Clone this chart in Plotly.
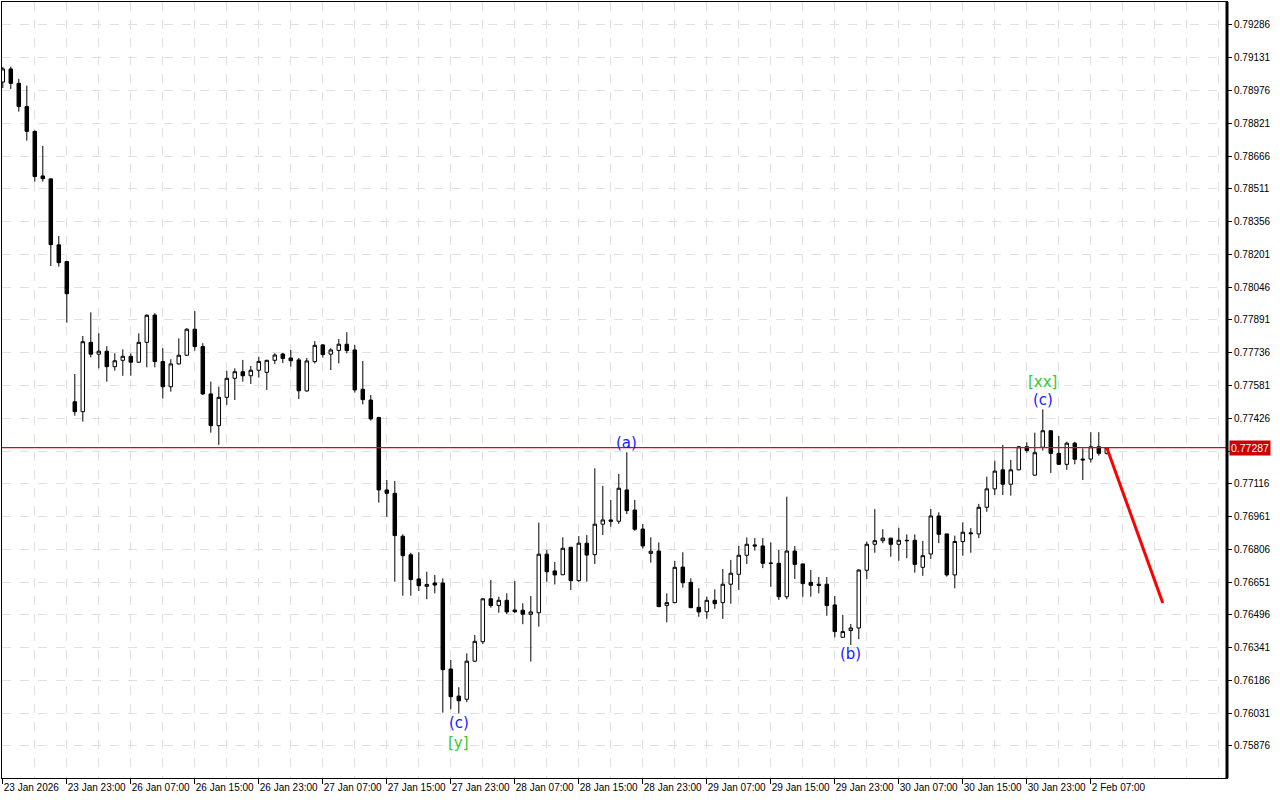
import plotly.graph_objects as go

# ---------------- data (hourly candles) ----------------
opens = [0.79016, 0.79078, 0.79010, 0.78900, 0.78783, 0.78572, 0.78558, 0.78246, 0.78167, 0.77504,
         0.77457, 0.77785, 0.77729, 0.77743, 0.77670, 0.77700, 0.77719, 0.77691, 0.77785, 0.77914,
         0.77694, 0.77575, 0.77683, 0.77724, 0.77847, 0.77765, 0.77541, 0.77391, 0.77525, 0.77615,
         0.77646, 0.77627, 0.77653, 0.77643, 0.77700, 0.77730, 0.77711, 0.77702, 0.77555, 0.77694,
         0.77773, 0.77729, 0.77747, 0.77776, 0.77749, 0.77563, 0.77512, 0.77429, 0.77087, 0.77071,
         0.76868, 0.76780, 0.76666, 0.76631, 0.76647, 0.76647, 0.76240, 0.76112, 0.76097, 0.76277,
         0.76369, 0.76572, 0.76541, 0.76565, 0.76519, 0.76518, 0.76499, 0.76506, 0.76783, 0.76704,
         0.76686, 0.76816, 0.76658, 0.76835, 0.76781, 0.76925, 0.76945, 0.76939, 0.77087, 0.76992,
         0.76902, 0.76787, 0.76798, 0.76541, 0.76554, 0.76722, 0.76650, 0.76532, 0.76511, 0.76565,
         0.76554, 0.76641, 0.76688, 0.76778, 0.76827, 0.76822, 0.76741, 0.76740, 0.76582, 0.76798,
         0.76737, 0.76650, 0.76641, 0.76641, 0.76543, 0.76390, 0.76422, 0.76434, 0.76707, 0.76830,
         0.76847, 0.76859, 0.76830, 0.76849, 0.76849, 0.76721, 0.76784, 0.76964, 0.76879, 0.76685,
         0.76843, 0.76884, 0.76879, 0.77005, 0.77092, 0.77182, 0.77114, 0.77182, 0.77291, 0.77157,
         0.77289, 0.77367, 0.77260, 0.77208, 0.77308, 0.77233, 0.77233, 0.77291, 0.77260]
highs = [0.79087, 0.79089, 0.79031, 0.78999, 0.78787, 0.78714, 0.78560, 0.78288, 0.78170, 0.77635,
         0.77815, 0.77927, 0.77828, 0.77767, 0.77733, 0.77752, 0.77733, 0.77828, 0.77918, 0.77923,
         0.77757, 0.77705, 0.77804, 0.77852, 0.77933, 0.77781, 0.77599, 0.77575, 0.77650, 0.77662,
         0.77702, 0.77673, 0.77717, 0.77702, 0.77733, 0.77736, 0.77749, 0.77711, 0.77711, 0.77791,
         0.77777, 0.77757, 0.77801, 0.77833, 0.77773, 0.77697, 0.77536, 0.77433, 0.77134, 0.77129,
         0.76877, 0.76790, 0.76792, 0.76700, 0.76685, 0.76669, 0.76283, 0.76154, 0.76314, 0.76401,
         0.76575, 0.76661, 0.76582, 0.76598, 0.76656, 0.76551, 0.76585, 0.76932, 0.76803, 0.76746,
         0.76863, 0.76816, 0.76869, 0.76874, 0.77189, 0.77106, 0.77040, 0.77163, 0.77265, 0.77040,
         0.76926, 0.76863, 0.76839, 0.76598, 0.76751, 0.76792, 0.76669, 0.76622, 0.76582, 0.76617,
         0.76713, 0.76756, 0.76822, 0.76862, 0.76859, 0.76859, 0.76839, 0.76803, 0.77055, 0.76822,
         0.76737, 0.76708, 0.76675, 0.76675, 0.76585, 0.76496, 0.76453, 0.76712, 0.76843, 0.76996,
         0.76901, 0.76859, 0.76908, 0.76877, 0.76877, 0.76846, 0.76997, 0.76981, 0.76879, 0.76871,
         0.76934, 0.76906, 0.77021, 0.77150, 0.77225, 0.77300, 0.77229, 0.77295, 0.77312, 0.77358,
         0.77468, 0.77367, 0.77342, 0.77315, 0.77315, 0.77284, 0.77360, 0.77360, 0.77290]
lows = [0.78988, 0.78983, 0.78876, 0.78739, 0.78545, 0.78545, 0.78146, 0.78143, 0.77878, 0.77438,
        0.77410, 0.77714, 0.77662, 0.77599, 0.77651, 0.77627, 0.77627, 0.77688, 0.77667, 0.77667,
        0.77520, 0.77552, 0.77680, 0.77721, 0.77746, 0.77536, 0.77358, 0.77300, 0.77489, 0.77512,
        0.77599, 0.77588, 0.77618, 0.77560, 0.77683, 0.77687, 0.77670, 0.77517, 0.77552, 0.77685,
        0.77713, 0.77654, 0.77685, 0.77733, 0.77547, 0.77492, 0.77415, 0.77027, 0.76960, 0.76653,
        0.76587, 0.76587, 0.76609, 0.76570, 0.76598, 0.76034, 0.76050, 0.76031, 0.76083, 0.76274,
        0.76358, 0.76530, 0.76506, 0.76500, 0.76504, 0.76452, 0.76275, 0.76440, 0.76653, 0.76640,
        0.76684, 0.76614, 0.76653, 0.76653, 0.76737, 0.76874, 0.76913, 0.76926, 0.76973, 0.76894,
        0.76810, 0.76743, 0.76535, 0.76461, 0.76552, 0.76625, 0.76530, 0.76487, 0.76478, 0.76525,
        0.76477, 0.76549, 0.76614, 0.76737, 0.76800, 0.76717, 0.76629, 0.76567, 0.76570, 0.76666,
        0.76582, 0.76582, 0.76598, 0.76492, 0.76390, 0.76388, 0.76354, 0.76381, 0.76666, 0.76790,
        0.76835, 0.76771, 0.76752, 0.76764, 0.76696, 0.76681, 0.76760, 0.76835, 0.76677, 0.76622,
        0.76776, 0.76790, 0.76859, 0.76984, 0.77063, 0.77063, 0.77060, 0.77180, 0.77263, 0.77155,
        0.77273, 0.77167, 0.77205, 0.77182, 0.77208, 0.77134, 0.77216, 0.77249, 0.77255]
closes = [0.79078, 0.79010, 0.78900, 0.78783, 0.78569, 0.78559, 0.78247, 0.78162, 0.78015, 0.77457,
          0.77788, 0.77729, 0.77743, 0.77670, 0.77698, 0.77719, 0.77691, 0.77785, 0.77913, 0.77694,
          0.77575, 0.77683, 0.77724, 0.77847, 0.77765, 0.77541, 0.77391, 0.77525, 0.77615, 0.77646,
          0.77627, 0.77653, 0.77695, 0.77700, 0.77725, 0.77709, 0.77698, 0.77556, 0.77697, 0.77771,
          0.77727, 0.77749, 0.77776, 0.77746, 0.77560, 0.77514, 0.77423, 0.77087, 0.77071, 0.76871,
          0.76776, 0.76663, 0.76634, 0.76640, 0.76637, 0.76237, 0.76109, 0.76090, 0.76277, 0.76371,
          0.76572, 0.76540, 0.76565, 0.76510, 0.76511, 0.76499, 0.76510, 0.76783, 0.76700, 0.76685,
          0.76811, 0.76658, 0.76835, 0.76779, 0.76925, 0.76945, 0.76939, 0.77095, 0.76989, 0.76901,
          0.76822, 0.76797, 0.76535, 0.76554, 0.76721, 0.76648, 0.76530, 0.76510, 0.76565, 0.76549,
          0.76641, 0.76693, 0.76778, 0.76830, 0.76822, 0.76740, 0.76740, 0.76582, 0.76798, 0.76735,
          0.76644, 0.76636, 0.76636, 0.76540, 0.76417, 0.76417, 0.76434, 0.76708, 0.76830, 0.76847,
          0.76859, 0.76830, 0.76849, 0.76847, 0.76735, 0.76776, 0.76964, 0.76877, 0.76685, 0.76843,
          0.76887, 0.76880, 0.77005, 0.77092, 0.77176, 0.77114, 0.77182, 0.77291, 0.77273, 0.77263,
          0.77367, 0.77260, 0.77208, 0.77308, 0.77232, 0.77229, 0.77291, 0.77260, 0.77287]

tick_labels = ["23 Jan 2026", "23 Jan 23:00", "26 Jan 07:00", "26 Jan 15:00", "26 Jan 23:00",
               "27 Jan 07:00", "27 Jan 15:00", "27 Jan 23:00", "28 Jan 07:00", "28 Jan 15:00",
               "28 Jan 23:00", "29 Jan 07:00", "29 Jan 15:00", "29 Jan 23:00", "30 Jan 07:00",
               "30 Jan 15:00", "30 Jan 23:00", "2 Feb 07:00"]
tick_every = 8
price_ticks = [0.75876, 0.76031, 0.76186, 0.76341, 0.76496, 0.76651, 0.76806, 0.76961, 0.77116,
               0.77271, 0.77426, 0.77581, 0.77736, 0.77891, 0.78046, 0.78201, 0.78356, 0.78511,
               0.78666, 0.78821, 0.78976, 0.79131, 0.79286]
current_price = 0.77287
forecast_x = [138, 145]
forecast_y = [0.77287, 0.76552]

# wave labels: (bar index, price, text, colour)
wave_labels = [
    (78, 0.77309, "(a)", "#1a1aff"),
    (106, 0.76311, "(b)", "#1a1aff"),
    (57, 0.75985, "(c)", "#1a1aff"),
    (57, 0.75890, "[y]", "#33cc33"),
    (130, 0.77598, "[xx]", "#33cc33"),
    (130, 0.77512, "(c)", "#1a1aff"),
]

x = list(range(len(opens)))

fig = go.Figure()
fig.add_trace(go.Candlestick(
    x=x, open=opens, high=highs, low=lows, close=closes,
    increasing=dict(line=dict(color="black", width=1), fillcolor="white"),
    decreasing=dict(line=dict(color="black", width=1), fillcolor="black"),
    whiskerwidth=0, hoverinfo="skip", showlegend=False,
))
fig.add_trace(go.Scatter(
    x=forecast_x, y=forecast_y, mode="lines",
    line=dict(color="#ff0000", width=3), hoverinfo="skip", showlegend=False,
))

fig.add_shape(type="line", xref="paper", x0=0, x1=1, yref="y", y0=current_price, y1=current_price,
              line=dict(color="#ee0000", width=1.3), layer="above")

for xi, yi, txt, col in wave_labels:
    fig.add_annotation(x=xi, y=yi, text=txt, showarrow=False, xref="x", yref="y",
                       font=dict(family="DejaVu Sans", size=15, color=col))

fig.add_annotation(xref="paper", x=1, xanchor="left", xshift=2, yref="y", y=current_price,
                   text=f"{current_price:.5f}", showarrow=False, bgcolor="#cc0000",
                   font=dict(family="Liberation Sans", size=10.5, color="white"),
                   borderpad=1)

# the tick hidden behind the current-price box keeps its grid line but no text
price_tick_text = ["" if abs(v - current_price) < 0.0003 else f"{v:.5f}" for v in price_ticks]

x_range = [-0.1, -0.1 + 1225 / 8]
fig.update_layout(
    width=1280, height=800,
    margin=dict(l=2, r=53, t=2, b=22, autoexpand=False),
    paper_bgcolor="white", plot_bgcolor="white",
    boxgap=0.38,
    xaxis=dict(
        range=x_range, rangeslider=dict(visible=False),
        automargin=False,
        tickmode="array",
        tickvals=[i * tick_every for i in range(len(tick_labels))],
        ticktext=tick_labels, tickangle=0,
        ticks="outside", ticklen=5, tickcolor="black", tickwidth=1,
        ticklabelposition="outside right",
        tickfont=dict(family="Liberation Sans", size=10, color="black"),
        showgrid=True, gridcolor="#e0e0e0", griddash="dash", gridwidth=1,
        minor=dict(tick0=0, dtick=4, showgrid=True, gridcolor="#e0e0e0", griddash="dash", ticks=""),
        showline=True, linecolor="black", linewidth=1, mirror=True,
        zeroline=False,
    ),
    yaxis=dict(
        side="right", automargin=False,
        range=[0.757246, 0.793946],
        tickmode="array", tickvals=price_ticks,
        ticktext=price_tick_text,
        ticks="outside", ticklen=4, tickcolor="black",
        tickfont=dict(family="Liberation Sans", size=10, color="black"),
        showgrid=True, gridcolor="#e0e0e0", griddash="dash", gridwidth=1,
        showline=True, linecolor="black", linewidth=1, mirror=True,
        zeroline=False,
    ),
)
fig.add_shape(type="line", xref="paper", yref="paper", x0=1, x1=1, y0=0, y1=1,
              line=dict(color="black", width=3), layer="above")

fig.write_html("out.html", config={"displayModeBar": False},
               post_script="document.body.style.margin='0px';")
